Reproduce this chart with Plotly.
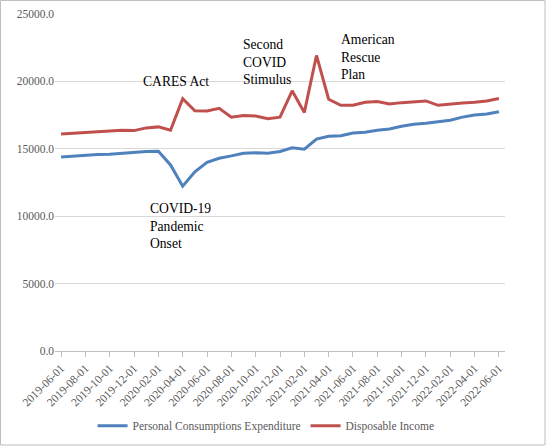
import pandas as pd
import plotly.graph_objects as go

# monthly data, 2019-06 .. 2022-06 (billions, annualised)
months = [d.strftime("%Y-%m-%d") for d in pd.date_range("2019-06-01", "2022-06-01", freq="MS")]

pce = [
    14400, 14475, 14550, 14575, 14600, 14675, 14750, 14800, 14825, 13800,
    12225, 13300, 14000, 14300, 14475, 14675, 14700, 14675, 14800, 15075,
    14975, 15725, 15925, 15975, 16175, 16225, 16375, 16475, 16675, 16825,
    16900, 17000, 17125, 17350, 17500, 17575, 17750,
]
disposable_income = [
    16100, 16150, 16225, 16275, 16325, 16375, 16350, 16550, 16625, 16375,
    18725, 17825, 17800, 18000, 17350, 17475, 17425, 17225, 17350, 19300,
    17700, 21925, 18675, 18225, 18225, 18450, 18500, 18325, 18425, 18500,
    18550, 18225, 18325, 18400, 18450, 18550, 18725,
]

y_ticks = [0, 5000, 10000, 15000, 20000, 25000]

# event labels: (text, paper x, paper y)
events = [
    ("CARES Act", 0.191, 0.801),
    ("Second<br>COVID<br>Stimulus", 0.413, 0.857),
    ("American<br>Rescue<br>Plan", 0.631, 0.872),
    ("COVID-19<br>Pandemic<br>Onset", 0.207, 0.370),
]

FONT = "Liberation Serif, Times New Roman, serif"

fig = go.Figure()
fig.add_trace(go.Scatter(
    x=months, y=pce, name="Personal Consumptions Expenditure",
    mode="lines", line={"color": "#4F81BD", "width": 3},
))
fig.add_trace(go.Scatter(
    x=months, y=disposable_income, name="Disposable Income",
    mode="lines", line={"color": "#C0504D", "width": 3},
))

for text, ax, ay in events:
    fig.add_annotation(
        text=text, x=ax, y=ay, xref="paper", yref="paper",
        xanchor="left", yanchor="middle", align="left",
        showarrow=False, font={"family": FONT, "size": 13.6, "color": "black"},
    )

# light border round the whole chart area
fig.add_shape(
    type="rect", xref="paper", yref="paper",
    x0=-54.5 / 450, x1=490 / 450, y0=(351 - 445) / 337, y1=350.5 / 337,
    line={"color": "#bfbfbf", "width": 1},
)

fig.update_xaxes(
    type="category", range=[-0.5, len(months) - 0.5], automargin=False,
    tickvals=months[::2], ticktext=months[::2], tickangle=-45,
    ticks="outside", ticklen=5, tickcolor="#bfbfbf",
    showline=True, linecolor="#bfbfbf", showgrid=False,
    tickfont={"family": FONT, "size": 11.5, "color": "#595959"},
)
fig.update_yaxes(
    range=[0, 25000], tickvals=y_ticks, ticktext=[f"{v:.1f}" for v in y_ticks],
    showgrid=True, gridcolor="#d9d9d9", zeroline=False, automargin=False,
    tickfont={"family": FONT, "size": 11.5, "color": "#595959"},
)
fig.update_layout(
    width=546, height=446,
    margin={"l": 55, "r": 41, "t": 14, "b": 95, "autoexpand": False},
    paper_bgcolor="white", plot_bgcolor="white",
    showlegend=True,
    legend={
        "orientation": "h", "x": 0.469, "xanchor": "center",
        "y": -0.222, "yanchor": "middle", "itemwidth": 30,
        "font": {"family": FONT, "size": 11.5, "color": "#595959"},
    },
)

# drop the default page margin so the chart sits at the window corner
fig.write_html(
    "out.html",
    config={"displayModeBar": False},
    post_script="document.body.style.margin='0';document.body.style.overflow='hidden';",
)
